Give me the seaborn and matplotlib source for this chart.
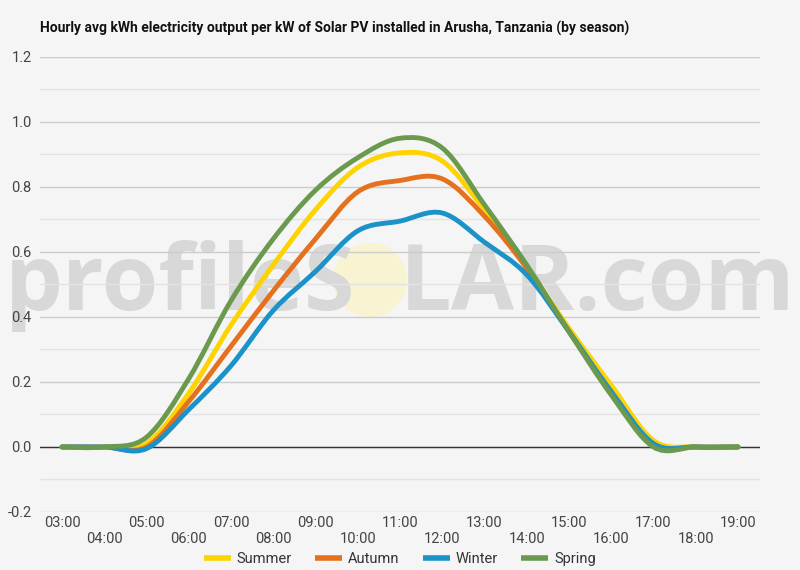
import numpy as np
import pandas as pd
import matplotlib
matplotlib.use("Agg")
import matplotlib.pyplot as plt
from matplotlib.path import Path
from matplotlib.patches import PathPatch, Ellipse
import seaborn as sns

# Data (hourly averages)
hours = list(range(3, 20))
hour_labels = [f"{h:02d}:00" for h in hours]
seasons = ["Summer", "Autumn", "Winter", "Spring"]
summer = [0, 0, 0.01, 0.165, 0.375, 0.56, 0.73, 0.86, 0.905, 0.88, 0.73, 0.555, 0.365, 0.19, 0.02, 0, 0]
autumn = [0, 0, 0.0, 0.14, 0.31, 0.48, 0.64, 0.785, 0.82, 0.825, 0.71, 0.55, 0.355, 0.17, 0.01, 0, 0]
winter = [0, 0, -0.005, 0.115, 0.25, 0.42, 0.54, 0.665, 0.695, 0.72, 0.63, 0.53, 0.355, 0.17, 0.01, 0, 0]
spring = [0, 0, 0.03, 0.21, 0.45, 0.64, 0.79, 0.89, 0.95, 0.92, 0.745, 0.56, 0.355, 0.16, 0.0, 0, 0]
colors = ["#FDD300", "#E5711F", "#1B93C9", "#6B9A4F"]

df = pd.DataFrame({
    "hour": hours * 4,
    "kwh": summer + autumn + winter + spring,
    "season": np.repeat(seasons, len(hours)),
})

sns.set_theme(style="white")
plt.rcParams["font.family"] = ["Roboto", "DejaVu Sans"]
bg = "#f5f5f5"

fig = plt.figure(figsize=(8, 5.7), dpi=100, facecolor=bg)
ax = fig.add_axes([0.05, 0.1018, 0.9, 0.7982])
ax.set_facecolor("none")

sns.lineplot(data=df, x="hour", y="kwh", hue="season", hue_order=seasons,
             palette=colors, linewidth=3.5, errorbar=None, ax=ax)


def smooth_path(x, y):
    # cardinal (catmull-rom) bezier through the hourly points
    pts = np.column_stack([x, y])
    n = len(pts)
    verts = [pts[0]]
    codes = [Path.MOVETO]
    for i in range(n - 1):
        p0 = pts[max(i - 1, 0)]
        p1 = pts[i]
        p2 = pts[i + 1]
        p3 = pts[min(i + 2, n - 1)]
        verts += [p1 + (p2 - p0) / 6, p2 - (p3 - p1) / 6, p2]
        codes += [Path.CURVE4] * 3
    return Path(verts, codes)


for line in list(ax.lines):
    xd, yd = line.get_xdata(), line.get_ydata()
    if len(xd) < 3:
        continue
    ax.add_patch(PathPatch(smooth_path(np.asarray(xd, float), np.asarray(yd, float)),
                           fill=False, edgecolor=line.get_color(), lw=3.5,
                           capstyle="round", joinstyle="round", zorder=3))
    line.set_visible(False)

# axes styling
ax.set_xlim(2.48, 19.52)
ax.set_ylim(-0.2, 1.2)
ax.set_xticks(hours)
ax.set_xticklabels([lab if i % 2 == 0 else "\n" + lab for i, lab in enumerate(hour_labels)])
yt = np.round(np.arange(-0.2, 1.21, 0.2), 1)
ax.set_yticks(yt)
ax.set_yticklabels([f"{v:.1f}" for v in yt])
ax.set_yticks(np.round(np.arange(-0.1, 1.2, 0.2), 1), minor=True)
ax.grid(False)
ax.grid(axis="y", which="major", color="#cccccc", lw=1)
ax.grid(axis="y", which="minor", color="#e3e3e3", lw=1)
ax.axhline(0, color="#333333", lw=1, zorder=2)
for s in ax.spines.values():
    s.set_visible(False)
ax.tick_params(axis="both", which="both", length=0, labelsize=10.5, labelcolor="#444444")
ax.tick_params(axis="y", pad=6)
ax.tick_params(axis="x", pad=3)
ax.set_xlabel("")
ax.set_ylabel("")

sns.move_legend(ax, "center", bbox_to_anchor=(0.5, -0.104), ncol=4, frameon=False,
                title=None, fontsize=10.5, handlelength=1.85, columnspacing=1.6,
                handletextpad=0.4, borderpad=0.1)
leg = ax.get_legend()
for h in leg.get_lines():
    h.set_linewidth(4)
    h.set_solid_capstyle("butt")
for t in leg.get_texts():
    t.set_color("#333333")

# title
fig.text(40 / 800, 1 - 28 / 570,
         "Hourly avg kWh electricity output per kW of Solar PV installed in Arusha, Tanzania (by season)",
         fontsize=10, fontweight="bold", color="#111111", va="center", ha="left")

# watermark
wm = dict(fontsize=66, color="#d8d8d8", va="baseline", family=["Open Sans", "DejaVu Sans"],
          fontweight="bold", zorder=-5)
fig.text(5 / 800, 1 - 310 / 570, "profileS", ha="left", **wm)
fig.text(795 / 800, 1 - 310 / 570, "LAR.com", ha="right", **wm)
fig.patches.append(Ellipse((370 / 800, 1 - 280 / 570), 74 / 800, 74 / 570,
                           transform=fig.transFigure, facecolor="#f8f3d0",
                           edgecolor="none", zorder=-5))

fig.savefig("out.png", dpi=100, facecolor=bg)
